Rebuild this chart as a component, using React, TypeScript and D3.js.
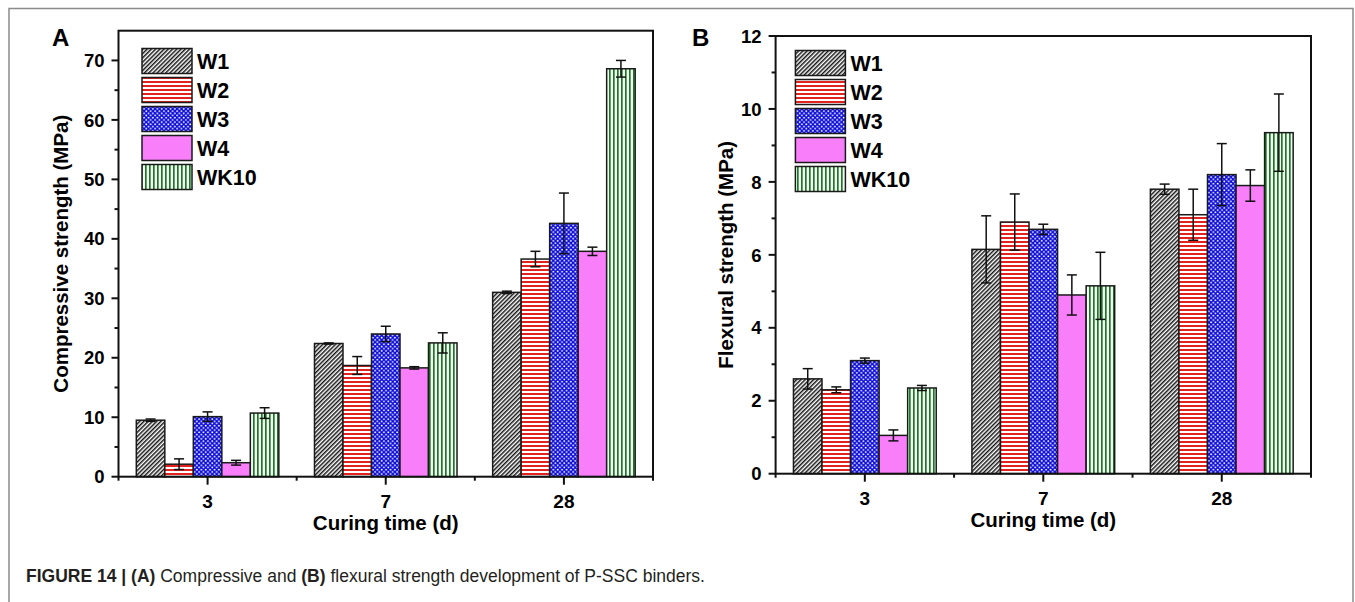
import React, { useEffect, useRef } from 'react';
import * as d3 from 'd3';

const days = ['3', '7', '28'];
const series = ['W1', 'W2', 'W3', 'W4', 'WK10'];

// rows follow series order (W1..WK10), columns follow days
const compressiveMean = [
  [9.5, 22.4, 31.0],
  [2.1, 18.7, 36.6],
  [10.1, 24.0, 42.6],
  [2.35, 18.3, 37.9],
  [10.7, 22.5, 68.6],
];
const compressiveErr = [
  [0.2, 0.1, 0.2],
  [0.9, 1.5, 1.3],
  [0.8, 1.3, 5.1],
  [0.4, 0.2, 0.7],
  [0.9, 1.7, 1.4],
];
const flexuralMean = [
  [2.6, 6.15, 7.8],
  [2.3, 6.9, 7.1],
  [3.1, 6.7, 8.2],
  [1.05, 4.9, 7.9],
  [2.35, 5.15, 9.35],
];
const flexuralErr = [
  [0.28, 0.92, 0.14],
  [0.08, 0.77, 0.7],
  [0.07, 0.14, 0.85],
  [0.15, 0.55, 0.43],
  [0.07, 0.92, 1.06],
];

const fills = ['url(#pW1)', 'url(#pW2)', 'url(#pW3)', '#f97ef9', 'url(#pWK10)'];
const FONT = "'Liberation Sans', Arial, Helvetica, sans-serif";

function drawPanel(svg: any, o: any) {
  const g = svg.append('g');
  const x = d3.scaleBand().domain(days).range([o.left, o.right]).paddingInner(0.2).paddingOuter(0.1);
  const sub = d3.scaleBand().domain(series).range([0, x.bandwidth()]);
  const y = d3.scaleLinear().domain([0, o.yMax]).range([o.bottom, o.top]);

  // bars
  series.forEach((s, si) => {
    days.forEach((d, di) => {
      const v = o.mean[si][di];
      const bx = (x(d) as number) + (sub(s) as number);
      g.append('rect')
        .attr('x', bx)
        .attr('y', y(v))
        .attr('width', sub.bandwidth())
        .attr('height', o.bottom - y(v))
        .attr('fill', fills[si])
        .attr('stroke', '#1a1a1a')
        .attr('stroke-width', 1.5);
    });
  });

  // error bars
  series.forEach((s, si) => {
    days.forEach((d, di) => {
      const v = o.mean[si][di];
      const e = o.err[si][di];
      const cx = (x(d) as number) + (sub(s) as number) + sub.bandwidth() / 2;
      const eg = g.append('g').attr('stroke', '#111').attr('stroke-width', 1.5);
      eg.append('line').attr('x1', cx).attr('x2', cx).attr('y1', y(v + e)).attr('y2', y(v - e));
      eg.append('line').attr('x1', cx - 5).attr('x2', cx + 5).attr('y1', y(v + e)).attr('y2', y(v + e));
      eg.append('line').attr('x1', cx - 5).attr('x2', cx + 5).attr('y1', y(v - e)).attr('y2', y(v - e));
    });
  });

  // frame
  g.append('rect')
    .attr('x', o.left).attr('y', o.top)
    .attr('width', o.right - o.left).attr('height', o.bottom - o.top)
    .attr('fill', 'none').attr('stroke', '#111').attr('stroke-width', 2);

  // y ticks
  const major = d3.range(0, o.yMax + 0.001, o.yStep);
  const minor = d3.range(o.yStep / 2, o.yMax, o.yStep);
  major.forEach((t: number) => {
    g.append('line').attr('x1', o.left - 7).attr('x2', o.left).attr('y1', y(t)).attr('y2', y(t))
      .attr('stroke', '#111').attr('stroke-width', 2);
    if (t <= o.yLabelMax)
      g.append('text').attr('x', o.left - 14).attr('y', y(t)).attr('dy', '0.36em')
        .attr('text-anchor', 'end').attr('font-family', FONT).attr('font-weight', 'bold')
        .attr('font-size', 18.5).text(t);
  });
  minor.forEach((t: number) => {
    g.append('line').attr('x1', o.left - 4).attr('x2', o.left).attr('y1', y(t)).attr('y2', y(t))
      .attr('stroke', '#111').attr('stroke-width', 2);
  });

  // x ticks
  days.forEach((d) => {
    const cx = (x(d) as number) + x.bandwidth() / 2;
    g.append('line').attr('x1', cx).attr('x2', cx).attr('y1', o.bottom).attr('y2', o.bottom + 8)
      .attr('stroke', '#111').attr('stroke-width', 2);
    g.append('text').attr('x', cx).attr('y', o.bottom + 31).attr('text-anchor', 'middle')
      .attr('font-family', FONT).attr('font-weight', 'bold').attr('font-size', 19).text(d);
  });
  const step = x.step();
  d3.range(0, days.length + 1).forEach((i: number) => {
    const bx = o.left + i * step;
    g.append('line').attr('x1', bx).attr('x2', bx).attr('y1', o.bottom).attr('y2', o.bottom + 4)
      .attr('stroke', '#111').attr('stroke-width', 2);
  });

  // axis titles
  g.append('text')
    .attr('x', (o.left + o.right) / 2).attr('y', o.bottom + 53)
    .attr('text-anchor', 'middle').attr('font-family', FONT).attr('font-weight', 'bold')
    .attr('font-size', 20.5).text('Curing time (d)');
  g.append('text')
    .attr('transform', `translate(${o.yTitleX},${(o.top + o.bottom) / 2}) rotate(-90)`)
    .attr('text-anchor', 'middle').attr('dy', '0.36em').attr('font-family', FONT).attr('font-weight', 'bold')
    .attr('font-size', 20.5).text(o.yTitle);

  // panel letter
  g.append('text').attr('x', o.letterX).attr('y', 46).attr('font-family', FONT)
    .attr('font-weight', 'bold').attr('font-size', 24).text(o.letter);

  // legend
  series.forEach((s, i) => {
    const ly = o.legendY + i * 29;
    g.append('rect').attr('x', o.legendX).attr('y', ly).attr('width', 50).attr('height', 25)
      .attr('fill', fills[i]).attr('stroke', '#1a1a1a').attr('stroke-width', 1.5);
    g.append('text').attr('x', o.legendX + 55).attr('y', ly + 12.5).attr('dy', '0.36em')
      .attr('font-family', FONT).attr('font-weight', 'bold').attr('font-size', 21.5).text(s);
  });
}

export default function App() {
  const ref = useRef<SVGSVGElement>(null);

  useEffect(() => {
    const svg = d3.select(ref.current);
    svg.selectAll('*').remove();

    const defs = svg.append('defs');
    const p1 = defs.append('pattern').attr('id', 'pW1').attr('patternUnits', 'userSpaceOnUse')
      .attr('width', 3).attr('height', 3).attr('patternTransform', 'rotate(45)');
    p1.append('rect').attr('width', 3).attr('height', 3).attr('fill', '#fff');
    p1.append('rect').attr('x', 0).attr('width', 1.5).attr('height', 3).attr('fill', '#151515');

    const p2 = defs.append('pattern').attr('id', 'pW2').attr('patternUnits', 'userSpaceOnUse')
      .attr('width', 4).attr('height', 4);
    p2.append('rect').attr('width', 4).attr('height', 4).attr('fill', '#fff');
    p2.append('rect').attr('y', 1).attr('width', 4).attr('height', 2).attr('fill', '#e3221f');

    const p3 = defs.append('pattern').attr('id', 'pW3').attr('patternUnits', 'userSpaceOnUse')
      .attr('width', 4.4).attr('height', 4.4);
    p3.append('rect').attr('width', 4.4).attr('height', 4.4).attr('fill', '#0b0bdc');
    p3.append('circle').attr('cx', 1.1).attr('cy', 1.1).attr('r', 0.95).attr('fill', '#fff');
    p3.append('circle').attr('cx', 3.3).attr('cy', 3.3).attr('r', 0.95).attr('fill', '#fff');

    const p5 = defs.append('pattern').attr('id', 'pWK10').attr('patternUnits', 'userSpaceOnUse')
      .attr('width', 4).attr('height', 4);
    p5.append('rect').attr('width', 4).attr('height', 4).attr('fill', '#fff');
    p5.append('rect').attr('x', 1).attr('width', 1.7).attr('height', 4).attr('fill', '#12801a');

    // outer figure frame
    svg.append('rect').attr('x', 9).attr('y', 8.5).attr('width', 1344).attr('height', 620)
      .attr('fill', 'none').attr('stroke', '#8a8a8a').attr('stroke-width', 1.5);

    drawPanel(svg, {
      left: 118.5, right: 653, top: 30.7, bottom: 476.7,
      yMax: 75, yStep: 10, yLabelMax: 70,
      mean: compressiveMean, err: compressiveErr,
      yTitle: 'Compressive strength (MPa)', yTitleX: 61,
      letter: 'A', letterX: 52,
      legendX: 142, legendY: 48.5,
    });
    drawPanel(svg, {
      left: 775.6, right: 1311, top: 36, bottom: 473.7,
      yMax: 12, yStep: 2, yLabelMax: 12,
      mean: flexuralMean, err: flexuralErr,
      yTitle: 'Flexural strength (MPa)', yTitleX: 726,
      letter: 'B', letterX: 692,
      legendX: 795.4, legendY: 50.5,
    });

    const cap = svg.append('text').attr('x', 26).attr('y', 582).attr('font-family', FONT)
      .attr('font-size', 17.5).attr('fill', '#231f20');
    cap.append('tspan').attr('font-weight', 'bold').text('FIGURE 14 | (A)');
    cap.append('tspan').text(' Compressive and ');
    cap.append('tspan').attr('font-weight', 'bold').text('(B)');
    cap.append('tspan').text(' flexural strength development of P-SSC binders.');
  }, []);

  return (
    <svg ref={ref} width={1355} height={602}
      style={{ position: 'absolute', left: 0, top: 0, background: '#fff' }} />
  );
}
